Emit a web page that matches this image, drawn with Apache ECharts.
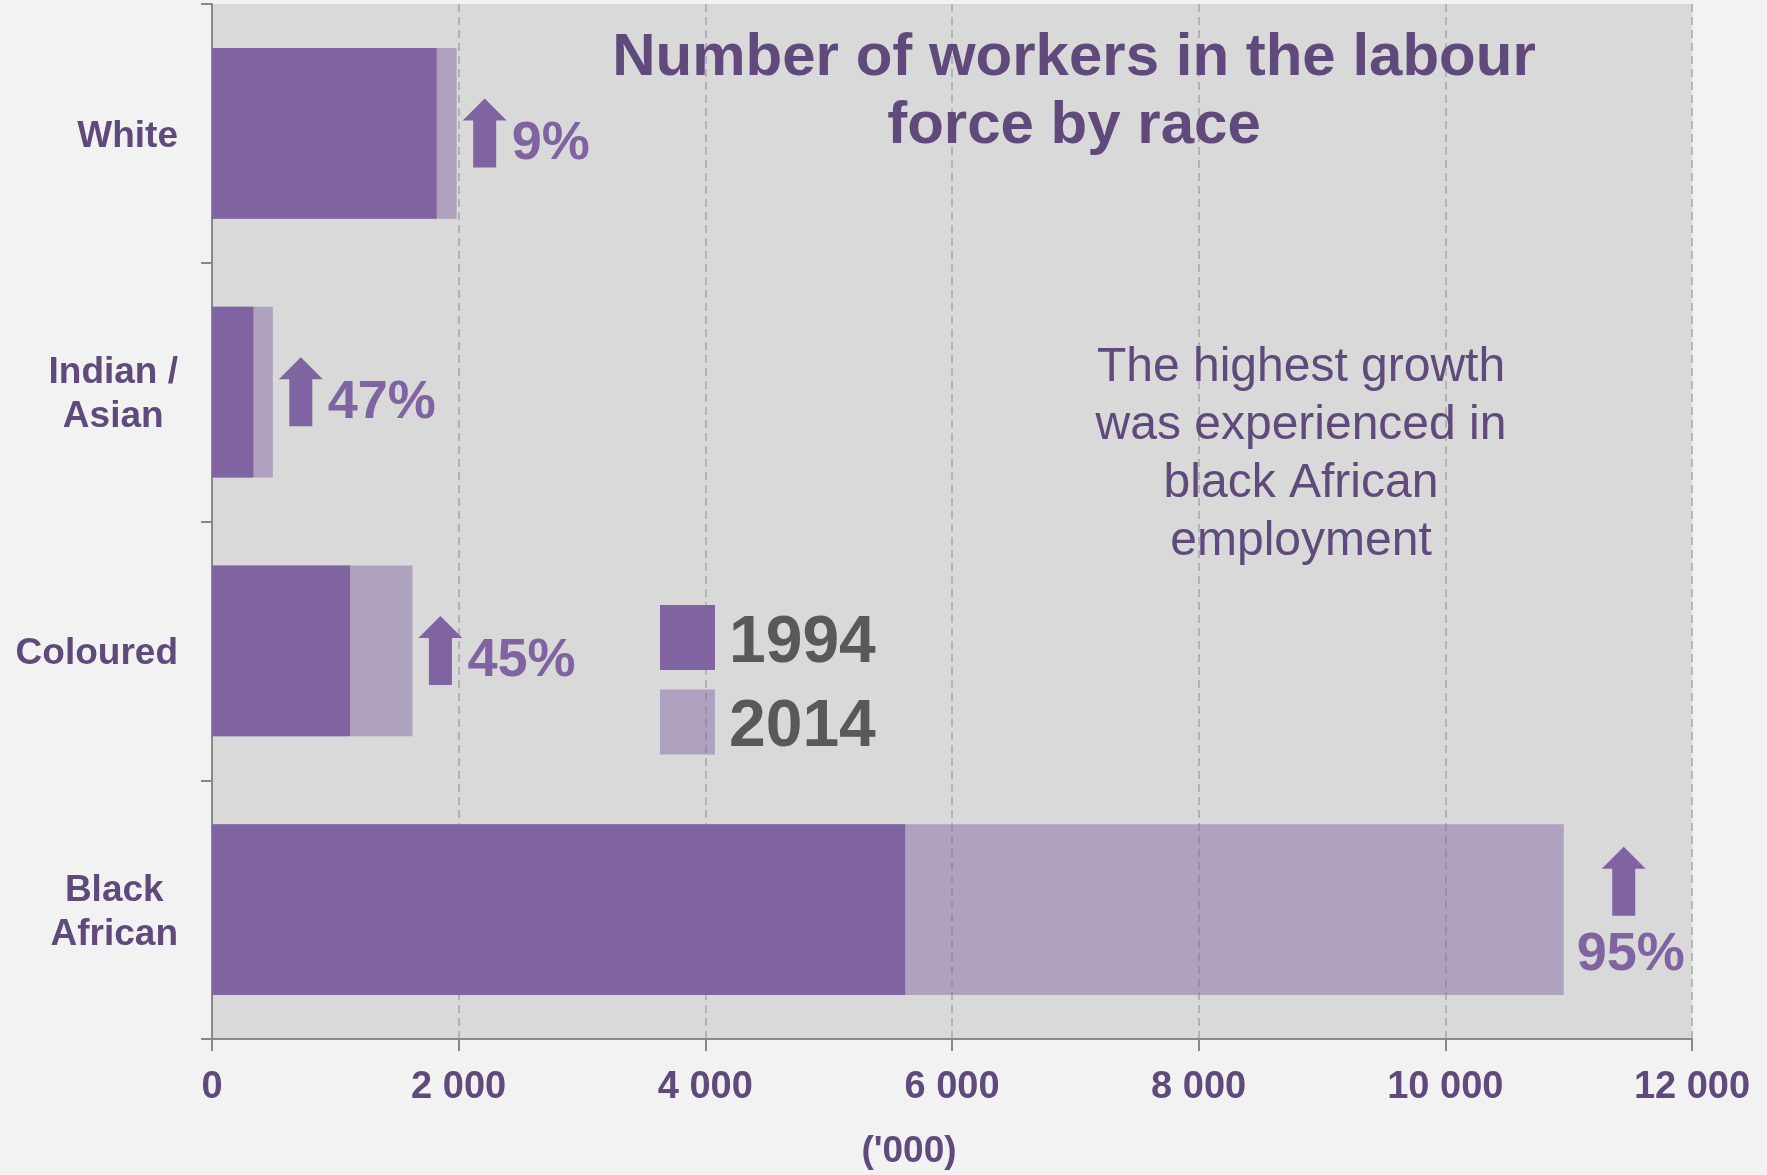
<!DOCTYPE html>
<html>
<head>
<meta charset="utf-8">
<title>Number of workers in the labour force by race</title>
<script src="https://cdn.jsdelivr.net/npm/echarts@6/dist/echarts.min.js"></script>
<style>
  html, body { margin: 0; padding: 0; background: #f2f2f2; }
  #chart { width: 1767px; height: 1175px; }
</style>
</head>
<body>
<div id="chart"></div>
<script>
// Labour force by race, thousands of workers
const categories = ['White', 'Indian /\nAsian', 'Coloured', 'Black\nAfrican'];
const workers1994 = [1822, 336, 1120, 5620];
const workers2014 = [1984, 493, 1625, 10960];
const xTicks = [0, 2000, 4000, 6000, 8000, 10000, 12000];

const FONT = '"Liberation Sans", Arial, sans-serif';
const DARK = '#604a7b';
const PURPLE = '#8064a2';
const LIGHT = 'rgba(128,100,162,0.47)';

// growth between the two years, in whole percent
const growth = workers1994.map((v, i) => Math.round((workers2014[i] / v - 1) * 100));
const arrowData = workers2014.map((v, i) => [v, i, growth[i]]);

function withSpaces(v) {
  return String(v).replace(/\B(?=(\d{3})+(?!\d))/g, ' ');
}

// up arrow plus percentage next to (or under) the end of the 2014 bar
function renderGrowth(params, api) {
  const v = api.value(0);
  const idx = api.value(1);
  const pct = api.value(2);
  const p = api.coord([v, idx]);
  const right = api.coord([xTicks[xTicks.length - 1], idx])[0];
  const c = p[1];
  const headW = 44, shaftW = 23, headH = 22, totalH = 69;

  function arrow(cx, top) {
    const bottom = top + totalH;
    return {
      type: 'polygon',
      shape: {
        points: [
          [cx, top],
          [cx + headW / 2, top + headH],
          [cx + shaftW / 2, top + headH],
          [cx + shaftW / 2, bottom],
          [cx - shaftW / 2, bottom],
          [cx - shaftW / 2, top + headH],
          [cx - headW / 2, top + headH]
        ]
      },
      style: { fill: PURPLE }
    };
  }

  const textStyle = {
    text: pct + '%',
    fill: PURPLE,
    fontSize: 54,
    fontWeight: 'bold',
    fontFamily: FONT,
    verticalAlign: 'middle'
  };

  if (p[0] + 230 < right) {
    const ax = p[0] + 6 + headW / 2;
    return {
      type: 'group',
      children: [
        arrow(ax, c - 35),
        { type: 'text', x: ax + headW / 2 + 5, y: c + 10.5, style: Object.assign({ align: 'left' }, textStyle) }
      ]
    };
  }
  const ax = p[0] + 60;
  return {
    type: 'group',
    children: [
      arrow(ax, c - 63),
      { type: 'text', x: ax + 7, y: c + 45, style: Object.assign({ align: 'center' }, textStyle) }
    ]
  };
}

const chart = echarts.init(document.getElementById('chart'), null, { renderer: 'canvas' });

chart.setOption({
  animation: false,
  backgroundColor: '#f2f2f2',
  textStyle: { fontFamily: FONT },
  title: {
    text: 'Number of workers in the labour\nforce by race',
    left: 1074,
    top: 24,
    padding: 0,
    textAlign: 'center',
    textStyle: {
      fontSize: 60,
      fontWeight: 'bold',
      color: DARK,
      lineHeight: 68,
      fontFamily: FONT
    }
  },
  legend: {
    data: ['1994', '2014'],
    orient: 'vertical',
    left: 660,
    top: 605,
    padding: 0,
    itemWidth: 55,
    itemHeight: 65,
    itemGap: 13,
    icon: 'rect',
    selectedMode: false,
    formatter: '{t|{name}}',
    textStyle: {
      fontSize: 66,
      fontWeight: 'bold',
      color: '#595959',
      fontFamily: FONT,
      rich: {
        t: {
          fontSize: 66,
          fontWeight: 'bold',
          color: '#595959',
          fontFamily: FONT,
          padding: [12, 0, 0, 9]
        }
      }
    }
  },
  grid: {
    left: 212,
    right: 75,
    top: 4,
    bottom: 136,
    show: true,
    backgroundColor: '#d9d9d9',
    borderWidth: 0
  },
  xAxis: {
    type: 'value',
    min: xTicks[0],
    max: xTicks[xTicks.length - 1],
    interval: xTicks[1] - xTicks[0],
    name: "('000)",
    nameLocation: 'middle',
    nameGap: 94,
    nameTextStyle: {
      fontSize: 37,
      fontWeight: 'bold',
      color: DARK,
      fontFamily: FONT,
      padding: [0, 86, 0, 0]
    },
    axisLine: { show: true, lineStyle: { color: '#898989', width: 2 } },
    axisTick: { show: true, length: 12, lineStyle: { color: '#898989', width: 2 } },
    axisLabel: {
      margin: 30,
      fontSize: 38,
      fontWeight: 'bold',
      color: DARK,
      fontFamily: FONT,
      formatter: withSpaces
    },
    splitLine: {
      show: true,
      lineStyle: { color: '#a6a6a6', width: 1.5, type: [8, 5] }
    }
  },
  yAxis: {
    type: 'category',
    data: categories,
    inverse: true,
    axisLine: { show: true, lineStyle: { color: '#898989', width: 2 } },
    axisTick: { show: true, length: 11, lineStyle: { color: '#898989', width: 2 } },
    splitLine: { show: false },
    axisLabel: {
      margin: 34,
      fontSize: 37,
      fontWeight: 'bold',
      color: DARK,
      fontFamily: FONT,
      lineHeight: 44,
      align: 'right',
      padding: [6, 0, 0, 0],
      formatter: function (value) {
        const lines = value.split('\n');
        if (lines.length === 1) return value;
        return lines.map(l => '{c|' + l + '}').join('\n');
      },
      rich: {
        c: {
          align: 'center',
          fontSize: 37,
          fontWeight: 'bold',
          color: DARK,
          fontFamily: FONT,
          lineHeight: 44
        }
      }
    }
  },
  graphic: [{
    type: 'text',
    x: 1301,
    y: 339,
    z: 10,
    style: {
      text: 'The highest growth\nwas experienced in\nblack African\nemployment',
      align: 'center',
      verticalAlign: 'top',
      fontSize: 48,
      lineHeight: 58,
      fontFamily: FONT,
      fill: DARK
    }
  }],
  series: [
    {
      name: '2014',
      type: 'bar',
      data: workers2014,
      barGap: '-100%',
      barCategoryGap: '34%',
      itemStyle: { color: LIGHT },
      emphasis: { disabled: true }
    },
    {
      name: '1994',
      type: 'bar',
      data: workers1994,
      barGap: '-100%',
      barCategoryGap: '34%',
      itemStyle: { color: PURPLE },
      emphasis: { disabled: true }
    },
    {
      name: 'growth',
      type: 'custom',
      data: arrowData,
      encode: { x: 0, y: 1 },
      renderItem: renderGrowth,
      silent: true,
      z: 5
    }
  ]
});
</script>
</body>
</html>
